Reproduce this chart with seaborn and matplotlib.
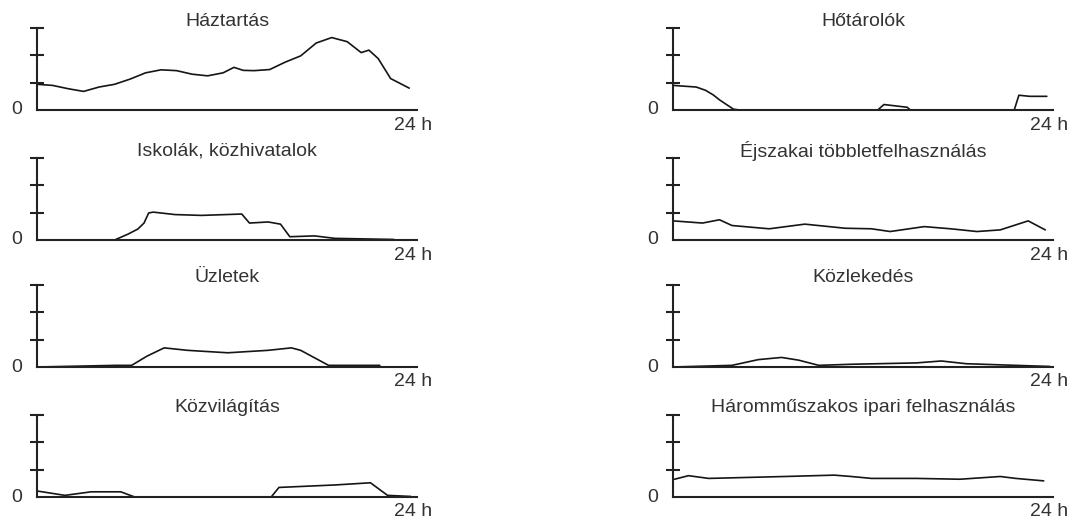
import numpy as np
import pandas as pd
import seaborn as sns
import matplotlib
matplotlib.use('Agg')
import matplotlib.pyplot as plt

# napi terhelési görbék (óra, relatív érték)
haztartas_h = [0, 1, 2, 3, 4, 5, 6, 7, 8, 9, 10, 11, 12, 12.7, 13.3, 14, 15, 16, 17, 18, 19, 20, 20.9, 21.4, 22, 22.8, 24]
haztartas_v = [0.94, 0.9, 0.78, 0.68, 0.84, 0.94, 1.13, 1.36, 1.47, 1.44, 1.31, 1.25, 1.36, 1.56, 1.45, 1.44, 1.48, 1.75, 1.98, 2.45, 2.65, 2.5, 2.1, 2.19, 1.88, 1.15, 0.8]

hotarolo_h = [0, 1.5, 2.1, 2.6, 3.0, 3.9, 4.3, 13.2, 13.6, 15.1, 15.3, 22.0, 22.3, 23.0, 24.1]
hotarolo_v = [0.9, 0.84, 0.72, 0.55, 0.37, 0.03, 0, 0, 0.2, 0.1, 0, 0, 0.54, 0.5, 0.5]

iskola_h = [0, 5, 5.85, 6.5, 6.9, 7.2, 7.5, 8.9, 10.6, 13.2, 13.7, 14.9, 15.7, 16.3, 17.9, 19.2, 23]
iskola_v = [0, 0, 0.21, 0.4, 0.62, 0.99, 1.02, 0.93, 0.9, 0.95, 0.62, 0.66, 0.58, 0.12, 0.15, 0.06, 0.02]

ejszakai_h = [0, 1.9, 3.0, 3.8, 6.2, 8.5, 11.1, 12.8, 14.0, 16.2, 17.9, 19.6, 21.1, 22.9, 24.0]
ejszakai_v = [0.7, 0.62, 0.74, 0.53, 0.41, 0.58, 0.43, 0.41, 0.31, 0.49, 0.41, 0.31, 0.37, 0.7, 0.37]

uzlet_h = [0, 5.1, 6.1, 7.1, 8.2, 9.7, 12.3, 14.9, 16.4, 17.0, 18.8, 22.1]
uzlet_v = [0, 0.06, 0.06, 0.4, 0.7, 0.61, 0.52, 0.61, 0.7, 0.61, 0.06, 0.06]

kozlekedes_h = [0, 3.8, 5.5, 7.0, 8.1, 9.4, 11.5, 15.7, 17.3, 18.9, 22.1, 24.3]
kozlekedes_v = [0, 0.06, 0.27, 0.35, 0.25, 0.06, 0.1, 0.15, 0.22, 0.12, 0.06, 0.02]

kozvilagitas_h = [0, 1.8, 3.5, 5.4, 6.3, 15.1, 15.6, 16.4, 19.2, 21.5, 22.6, 24.1]
kozvilagitas_v = [0.22, 0.06, 0.19, 0.19, 0, 0, 0.35, 0.37, 0.44, 0.52, 0.06, 0.02]

harom_h = [0.1, 1.0, 2.3, 5.1, 7.2, 10.4, 11.5, 12.8, 15.7, 18.5, 21.1, 22.1, 23.9]
harom_v = [0.65, 0.78, 0.68, 0.72, 0.75, 0.8, 0.75, 0.68, 0.68, 0.65, 0.75, 0.68, 0.59]

titles = ['Háztartás', 'Hőtárolók',
          'Iskolák, közhivatalok', 'Éjszakai többletfelhasználás',
          'Üzletek', 'Közlekedés',
          'Közvilágítás', 'Háromműszakos ipari felhasználás']
series = [(haztartas_h, haztartas_v), (hotarolo_h, hotarolo_v),
          (iskola_h, iskola_v), (ejszakai_h, ejszakai_v),
          (uzlet_h, uzlet_v), (kozlekedes_h, kozlekedes_v),
          (kozvilagitas_h, kozvilagitas_v), (harom_h, harom_v)]

sns.set_style('white')
plt.rcParams['font.family'] = ['Liberation Sans', 'DejaVu Sans']

W, H = 1069, 518
fig = plt.figure(figsize=(W / 100, H / 100), dpi=100)

lefts = [37, 673]
tops = [28, 158, 285, 415]
bases = [110, 240, 367, 497]
txt = '#333333'

for i, (title, (hh, vv)) in enumerate(zip(titles, series)):
    row, col = divmod(i, 2)
    ax = fig.add_axes([lefts[col] / W, 1 - bases[row] / H, 380 / W, (bases[row] - tops[row]) / H])
    df = pd.DataFrame({'ora': hh, 'ertek': vv})
    sns.lineplot(data=df, x='ora', y='ertek', ax=ax, color='#151515', linewidth=1.2)
    ax.set_xlim(0, 24.5)
    ax.set_ylim(0, 3)
    ax.set_xticks([])
    ax.set_yticks([1, 2, 3])
    ax.tick_params(axis='y', direction='inout', length=10, width=1.5, color='#222222', labelleft=False, left=True)
    ax.set_xlabel('')
    ax.set_ylabel('')
    for s in ['top', 'right']:
        ax.spines[s].set_visible(False)
    for s in ['left', 'bottom']:
        ax.spines[s].set_color('#222222')
        ax.spines[s].set_linewidth(1.5)
    ax.patch.set_alpha(0)
    ax.annotate(title, xy=(0.5, 1), xycoords='axes fraction', xytext=(0, 7),
                textcoords='offset pixels', ha='center', va='center', fontsize=14, color=txt)
    ax.annotate('0', xy=(0, 0), xycoords='axes fraction', xytext=(-20, 0),
                textcoords='offset pixels', ha='center', va='center', fontsize=14, color=txt)
    ax.annotate('24 h', xy=(1, 0), xycoords='axes fraction', xytext=(15, -15),
                textcoords='offset pixels', ha='right', va='center', fontsize=14, color=txt,
                annotation_clip=False)

fig.savefig('out.png', dpi=100)
